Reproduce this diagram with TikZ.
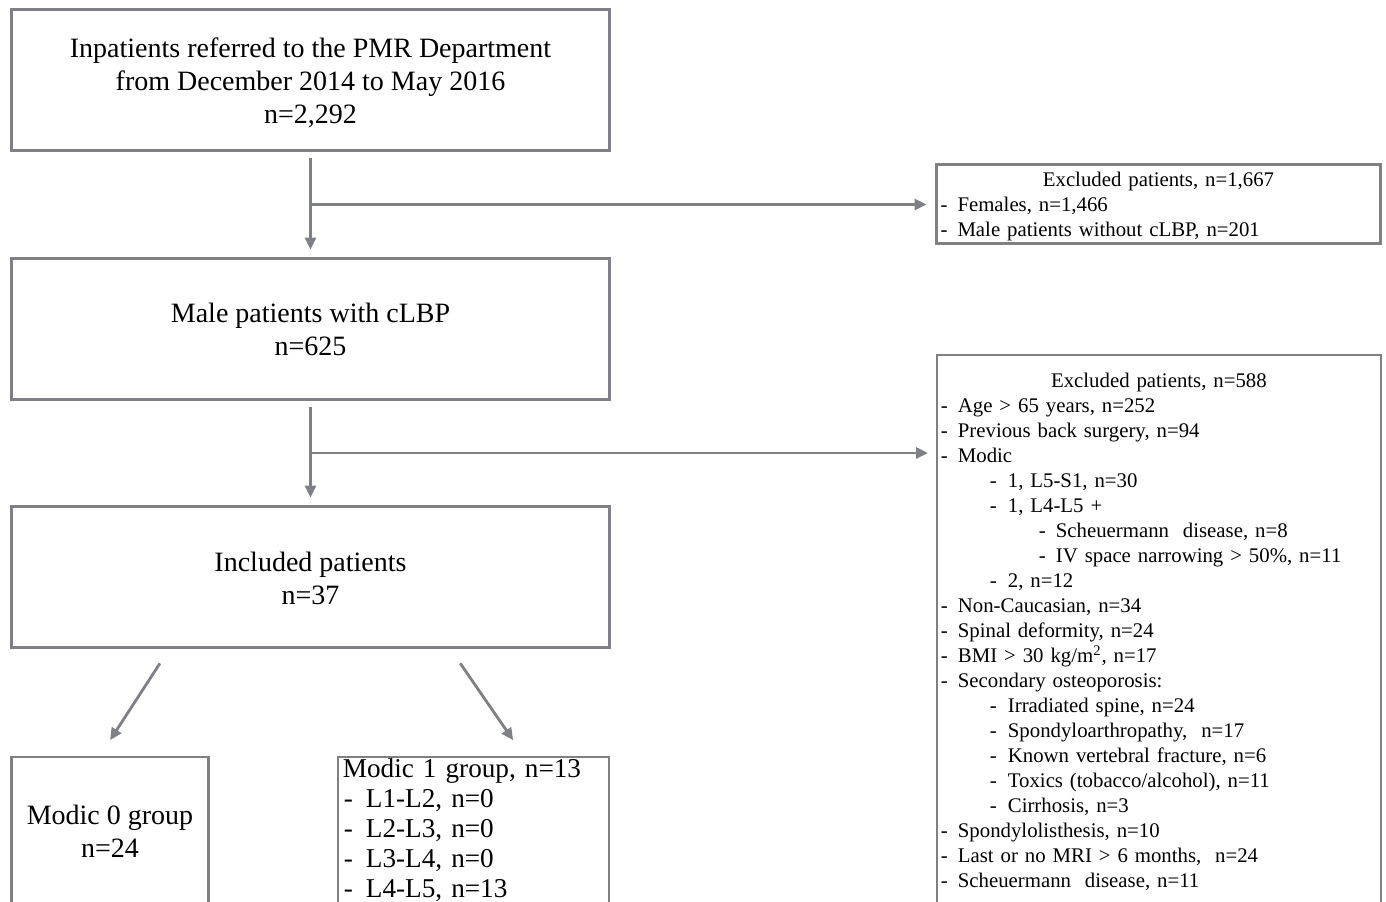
\documentclass[tikz,border=0pt]{standalone}
\usepackage{fontspec}
\setmainfont{Liberation Serif}
\usetikzlibrary{positioning,arrows.meta,calc}
\definecolor{flowgray}{RGB}{126,128,133}
% list lines: title and three indent levels
\newcommand{\ttl}[1]{\hbox to \hsize{\hfil\strut#1\hfil}}
\newcommand{\lva}[1]{\strut\makebox[8.5pt][l]{-}#1}
\newcommand{\lvb}[1]{\strut\hspace*{24.5pt}\makebox[9pt][l]{-}#1}
\newcommand{\lvc}[1]{\strut\hspace*{49pt}\makebox[8.5pt][l]{-}#1}
\newcommand{\lvm}[1]{\strut\hspace*{0.5pt}\makebox[11pt][l]{-}#1}
\tikzset{
  box/.style={draw=flowgray, line width=1.4pt, inner sep=0pt, align=center},
  bigtxt/.style={font=\fontsize{14}{16.5}\selectfont},
  grptxt/.style={font=\fontsize{13.6}{15}\selectfont},
  smalltxt/.style={font=\fontsize{10.4}{12.5}\selectfont},
  flow/.style={draw=flowgray, line width=1.4pt, -{Triangle[length=6pt,width=5.5pt]}}
}
\begin{document}
\begin{tikzpicture}[x=0.5pt,y=-0.5pt]
  \useasboundingbox (0,0) rectangle (1386,901);
  \clip (0,0) rectangle (1386,901);
  % main column
  \node[box, bigtxt, minimum width=299pt, minimum height=70.5pt] (inp) at (310.5,80)
    {\rule{0pt}{12.7pt}Inpatients referred to the PMR Department\\from December 2014 to May 2016\\n=2,292};
  \node[box, bigtxt, minimum width=299pt, minimum height=70.5pt] (male) at (310.5,329)
    {Male patients with cLBP\\n=625};
  \node[box, bigtxt, minimum width=299pt, minimum height=70.5pt] (incl) at (310.5,577)
    {\rule{0pt}{11.5pt}Included patients\\n=37};
  % groups
  \node[box, bigtxt, minimum width=98.5pt, minimum height=77pt, anchor=north] (m0) at (110,755.5)
    {Modic 0 group\\n=24\rule[-3pt]{0pt}{1pt}};
  \node[box, grptxt, text width=130.5pt, inner xsep=2.5pt, inner ysep=0pt, anchor=north west, align=left] (m1) at (336.5,755.5)
    {\strut Modic 1 group, n=13\\
     \lvm{L1-L2, n=0}\\
     \lvm{L2-L3, n=0}\\
     \lvm{L3-L4, n=0}\\
     \lvm{L4-L5, n=13}};
  % exclusions
  \node[box, smalltxt, text width=218pt, inner xsep=2pt, inner ysep=0pt, align=left] (ex1) at (1158.5,204)
    {\ttl{\rule{0pt}{11.1pt}Excluded patients, n=1,667}\\
     \lva{Females, n=1,466}\\
     \lva{Male patients without cLBP, n=201}};
  \node[box, smalltxt, text width=218pt, inner xsep=2pt, inner ysep=7.5pt, anchor=north west, align=left] (ex2) at (935.5,353.5)
    {\ttl{Excluded patients, n=588}\\
     \lva{Age > 65 years, n=252}\\
     \lva{Previous back surgery, n=94}\\
     \lva{Modic}\\
     \lvb{1, L5-S1, n=30}\\
     \lvb{1, L4-L5 +}\\
     \lvc{Scheuermann\ \ disease, n=8}\\
     \lvc{IV space narrowing > 50\%, n=11}\\
     \lvb{2, n=12}\\
     \lva{Non-Caucasian, n=34}\\
     \lva{Spinal deformity,\ n=24}\\
     \lva{BMI > 30 kg/m\textsuperscript{2},\ n=17}\\
     \lva{Secondary osteoporosis:}\\
     \lvb{Irradiated spine, n=24}\\
     \lvb{Spondyloarthropathy,\ \ n=17}\\
     \lvb{Known\ vertebral fracture, n=6}\\
     \lvb{Toxics (tobacco/alcohol), n=11}\\
     \lvb{Cirrhosis, n=3}\\
     \lva{Spondylolisthesis, n=10}\\
     \lva{Last or no MRI > 6 months,\ \ n=24}\\
     \lva{Scheuermann\ \ disease, n=11}};
  % connectors
  \draw[flow, shorten <=3.25pt, shorten >=3.75pt] (inp.south) -- (male.north);
  \coordinate (br1) at ($(inp.south)!0.5!(male.north)$);
  \draw[flow, shorten >=4.25pt] (br1) -- (br1 -| ex1.west);
  \draw[flow, shorten <=3.25pt, shorten >=3.75pt] (male.south) -- (incl.north);
  \coordinate (br2) at ($(male.south)!0.5!(incl.north)$);
  \draw[flow, shorten >=3.75pt] (br2) -- (br2 -| ex2.west);
  \draw[flow, shorten <=8.6pt, shorten >=9.2pt] ([xshift=-70.6pt]incl.south) -- ([xshift=-4.95pt]m0.north);
  \draw[flow, shorten <=8.7pt, shorten >=9.3pt] ([xshift=69.9pt]incl.south) -- ([xshift=25.15pt]m1.north);
\end{tikzpicture}
\end{document}
